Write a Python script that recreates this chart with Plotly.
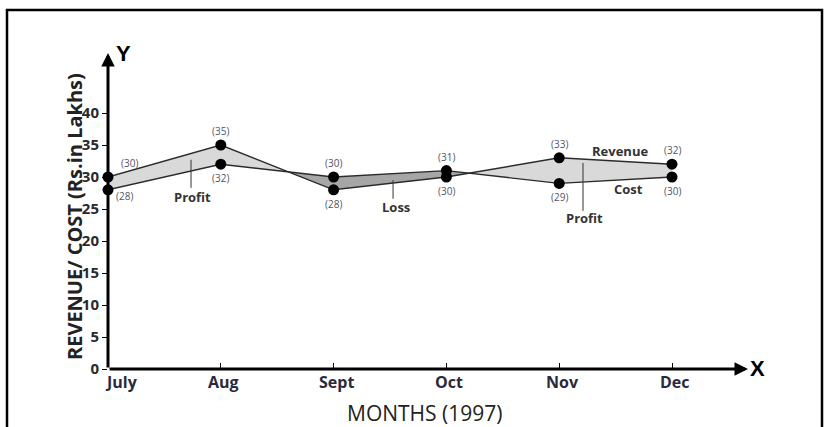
import plotly.graph_objects as go

months = ["July", "Aug", "Sept", "Oct", "Nov", "Dec"]
revenue = [30, 35, 28, 30, 33, 32]
cost = [28, 32, 30, 31, 29, 30]
y_ticks = [0, 5, 10, 15, 20, 25, 30, 35, 40]

xs = list(range(len(months)))

PROFIT_FILL = "#d9d9d9"
LOSS_FILL = "#a6a6a6"
LINE_COL = "#2b2b2b"
FONT = "Open Sans"

fig = go.Figure()

# ---- build shaded regions between revenue and cost (profit / loss) ----
pts = []  # (x, rev, cost)
for i in range(len(xs)):
    pts.append((xs[i], revenue[i], cost[i]))
    if i < len(xs) - 1:
        d0 = revenue[i] - cost[i]
        d1 = revenue[i + 1] - cost[i + 1]
        if d0 * d1 < 0:
            t = d0 / (d0 - d1)
            xc = xs[i] + t * (xs[i + 1] - xs[i])
            yc = revenue[i] + t * (revenue[i + 1] - revenue[i])
            pts.append((xc, yc, yc))

regions = []
cur = [pts[0]]
for p in pts[1:]:
    cur.append(p)
    if abs(p[1] - p[2]) < 1e-9:
        regions.append(cur)
        cur = [p]
regions.append(cur)

for reg in regions:
    diffs = [q[1] - q[2] for q in reg if abs(q[1] - q[2]) > 1e-9]
    sign = 1 if sum(diffs) >= 0 else -1
    px = [q[0] for q in reg] + [q[0] for q in reversed(reg)]
    py = [q[1] for q in reg] + [q[2] for q in reversed(reg)]
    fig.add_trace(go.Scatter(
        x=px, y=py, fill="toself", mode="lines",
        fillcolor=PROFIT_FILL if sign > 0 else LOSS_FILL,
        line=dict(width=0), hoverinfo="skip", showlegend=False,
        cliponaxis=False,
    ))

# ---- lines & markers ----
for series in (revenue, cost):
    fig.add_trace(go.Scatter(
        x=xs, y=series, mode="lines+markers",
        line=dict(color=LINE_COL, width=1.4),
        marker=dict(color="black", size=11),
        showlegend=False, cliponaxis=False,
    ))

# ---- axes with arrows ----
X_MAX = 640 / 112.8
Y_MAX = 316 / 6.4

annotations = [
    dict(x=X_MAX, y=0, ax=0, ay=0, xref="x", yref="y", axref="x", ayref="y",
         showarrow=True, arrowhead=2, arrowsize=0.9, arrowwidth=3,
         arrowcolor="black", text="", standoff=0, startstandoff=0),
    dict(x=0, y=Y_MAX, ax=0, ay=0, xref="x", yref="y", axref="x", ayref="y",
         showarrow=True, arrowhead=2, arrowsize=0.9, arrowwidth=3,
         arrowcolor="black", text="", standoff=0, startstandoff=0),
    dict(x=(123 - 108) / 640, y=(369 - 53) / 316, xref="paper", yref="paper",
         xanchor="center", yanchor="middle",
         text="Y", showarrow=False, font=dict(family="Liberation Sans", size=22, color="black", weight="bold")),
    dict(x=(757 - 108) / 640, y=(369 - 368) / 316, xref="paper", yref="paper",
         xanchor="center", yanchor="middle",
         text="X", showarrow=False, font=dict(family="Liberation Sans", size=22, color="black", weight="bold")),
    dict(x=(424 - 108) / 640, y=(369 - 413) / 316, xref="paper", yref="paper",
         xanchor="center", yanchor="middle",
         text="MONTHS (1997)", showarrow=False,
         font=dict(family=FONT, size=21, color="#222222")),
    dict(x=(74 - 108) / 640, y=(369 - 217) / 316, xref="paper", yref="paper",
         xanchor="center", yanchor="middle",
         text="REVENUE/ COST (Rs.in Lakhs)", textangle=-90, showarrow=False,
         font=dict(family=FONT, size=20, color="#222222", weight="bold")),
]

# ---- month labels (July label sits to the right of the origin) ----
month_font = dict(family=FONT, size=16, color="#2a2a3a", weight="bold")
for i, m in enumerate(months):
    annotations.append(dict(x=xs[i], y=(369 - 382) / 316, xref="x", yref="paper",
                            xanchor="center", yanchor="middle",
                            text=m, showarrow=False, font=month_font,
                            xshift=13 if i == 0 else 3))

# ---- value labels ----
label_font = dict(family=FONT, size=10, color="#555566")
for series, other in ((revenue, cost), (cost, revenue)):
    for i, (v, o) in enumerate(zip(series, other)):
        upper = v >= o
        xshift = 0
        yshift = 14 if upper else -14
        if i == 0:
            xshift = 21 if upper else 16
            yshift = 14 if upper else -6
        annotations.append(dict(x=xs[i], y=v, xref="x", yref="y",
                                text=f"({v})", showarrow=False,
                                xshift=xshift, yshift=yshift, font=label_font))

note_font = dict(family=FONT, size=13, color="#333333", weight="bold")
notes = [
    ("Profit", 0.745, 26.9),
    ("Loss", 2.553, 25.3),
    ("Profit", 4.22, 23.6),
    ("Revenue", 4.539, 34.1),
    ("Cost", 4.61, 28.2),
]
for txt, nx, ny in notes:
    annotations.append(dict(x=nx, y=ny, xref="x", yref="y", text=txt,
                            showarrow=False, font=note_font))

shapes = [
    dict(type="line", xref="x", yref="y", x0=0.736, x1=0.736, y0=32.7, y1=28.3,
         line=dict(color="#333333", width=1)),
    dict(type="line", xref="x", yref="y", x0=2.527, x1=2.527, y0=29.5, y1=26.6,
         line=dict(color="#333333", width=1)),
    dict(type="line", xref="x", yref="y", x0=4.211, x1=4.211, y0=32.2, y1=24.7,
         line=dict(color="#333333", width=1)),
    dict(type="rect", xref="paper", yref="paper",
         x0=(7 - 108) / 640, x1=(822 - 108) / 640,
         y0=(369 - 445) / 316, y1=(369 - 10) / 316,
         line=dict(color="black", width=2.5), layer="above"),
]

fig.update_layout(
    width=832, height=427,
    margin=dict(l=108, r=84, t=53, b=58),
    paper_bgcolor="white", plot_bgcolor="white",
    showlegend=False,
    annotations=annotations, shapes=shapes,
    xaxis=dict(range=[0, X_MAX], tickvals=xs, ticktext=[""] * len(xs),
               ticks="inside", ticklen=6, tickwidth=1.2, tickcolor="black",
               showgrid=False, zeroline=False, showline=False,
               fixedrange=True),
    yaxis=dict(range=[0, Y_MAX], tickvals=y_ticks,
               ticks="outside", ticklen=5, tickwidth=1.2, tickcolor="black",
               showgrid=False, zeroline=False, showline=False,
               tickfont=dict(family=FONT, size=15, color="#2a2a2a", weight="bold"),
               fixedrange=True),
)

fig.write_html(
    "out.html",
    config={"displayModeBar": False},
    post_script="document.body.style.margin='0';document.body.style.overflow='hidden';",
)
